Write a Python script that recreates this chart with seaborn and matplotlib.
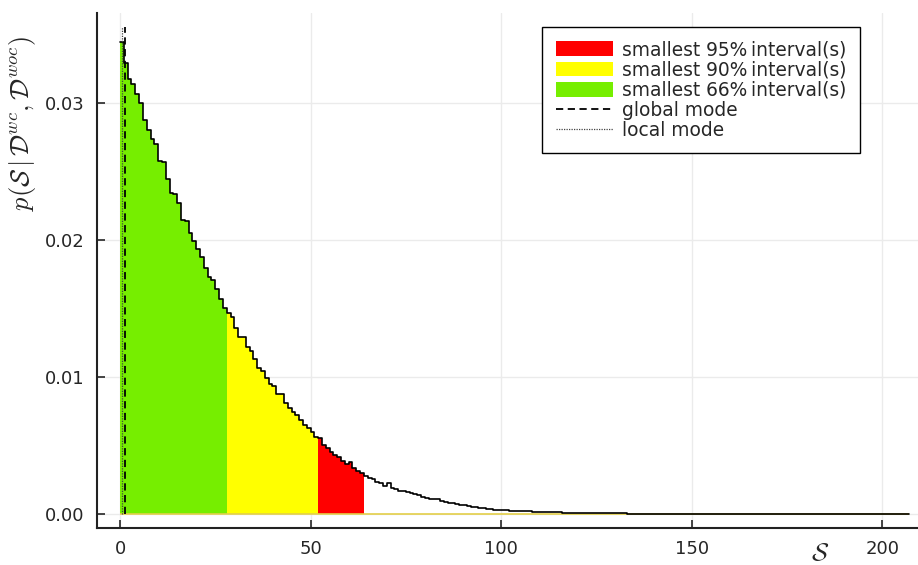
import numpy as np
import pandas as pd
import matplotlib
matplotlib.use("Agg")
import matplotlib.pyplot as plt
import seaborn as sns
from matplotlib.patches import Patch
from matplotlib.lines import Line2D

# Posterior density per unit-width bin, bins start at 0
densidade = [
    0.03445, 0.03287, 0.03171, 0.03134, 0.03063, 0.02995, 0.02874, 0.02801, 0.02733, 0.02697,
    0.02575, 0.02565, 0.02441, 0.02344, 0.02332, 0.02268, 0.02146, 0.02140, 0.02047, 0.01994,
    0.01931, 0.01872, 0.01797, 0.01726, 0.01704, 0.01639, 0.01566, 0.01505, 0.01464, 0.01435,
    0.01359, 0.01293, 0.01290, 0.01220, 0.01191, 0.01128, 0.01067, 0.01043, 0.00994, 0.00946,
    0.00934, 0.00878, 0.00872, 0.00807, 0.00771, 0.00746, 0.00722, 0.00686, 0.00652, 0.00630,
    0.00600, 0.00560, 0.00552, 0.00503, 0.00484, 0.00455, 0.00430, 0.00413, 0.00389, 0.00365,
    0.00382, 0.00333, 0.00316, 0.00297, 0.00277, 0.00260, 0.00253, 0.00236, 0.00224, 0.00204,
    0.00224, 0.00192, 0.00182, 0.00170, 0.00165, 0.00160, 0.00156, 0.00146, 0.00141, 0.00126,
    0.00117, 0.00112, 0.00110, 0.00110, 0.00097, 0.00090, 0.00083, 0.00078, 0.00073, 0.00068,
    0.00066, 0.00058, 0.00053, 0.00049, 0.00046, 0.00041, 0.00036, 0.00034, 0.00032, 0.00030,
    0.00028, 0.00027, 0.00025, 0.00024, 0.00023, 0.00022, 0.00020, 0.00019, 0.00018, 0.00017,
    0.00016, 0.00015, 0.00014, 0.00013, 0.00012, 0.00012, 0.00011, 0.00010, 0.00010, 0.00009,
    0.00009, 0.00008, 0.00008, 0.00007, 0.00007, 0.00006, 0.00006, 0.00005, 0.00005, 0.00005,
    0.00004, 0.00004, 0.00004, 0.00003, 0.00003, 0.00003, 0.00003, 0.00002, 0.00002, 0.00002,
    0.00002, 0.00002, 0.00002, 0.00001, 0.00001, 0.00001, 0.00001, 0.00001, 0.00001, 0.00001,
    0.00001, 0.00001, 0.00001, 0.00001, 0.00001, 0.00001, 0.00001, 0.00001, 0.00001, 0.00001,
    0.00001, 0.00001, 0.00001, 0.00001, 0.00001, 0.00001, 0.000005, 0.000005, 0.000005, 0.000005,
    0.000005, 0.000005, 0.000005, 0.000005, 0.000005, 0.000005, 0.000005, 0.000005, 0.000005, 0.000005,
    0.000005, 0.000005, 0.000005, 0.000005, 0.000005, 0.000005, 0.000005, 0.000005, 0.000005, 0.000005,
    0.000005, 0.0, 0.0, 0.0, 0.0, 0.0, 0.0, 0.0, 0.0, 0.0,
    0.0, 0.0, 0.0, 0.0, 0.0, 0.0, 0.0,
]
largura_bin = 1.0

# Smallest intervals (start, end) and mode positions
intervalo_66 = (0, 28)
intervalo_90 = (28, 52)
intervalo_95 = (52, 64)
moda_global = 1.3
moda_local = 0.45

rotulos_legenda = [
    "smallest 95%\u2009interval(s)",
    "smallest 90%\u2009interval(s)",
    "smallest 66%\u2009interval(s)",
    "global mode",
    "local mode",
]
xticks = [0, 50, 100, 150, 200]
yticks = [0.00, 0.01, 0.02, 0.03]

sns.set_style("ticks")
plt.rcParams["font.family"] = ["DejaVu Sans"]
plt.rcParams["mathtext.fontset"] = "cm"

n = len(densidade)
bordas = np.arange(n + 1) * largura_bin
dados = pd.DataFrame({"S": bordas[:-1] + largura_bin / 2, "p": densidade})

fig = plt.figure(figsize=(9.18, 5.65), dpi=100)
ax = fig.add_axes([97 / 918, 1 - 528 / 565, 1 - 97 / 918, (528 - 13) / 565])

cores = {"95": "#FF0000", "90": "#FFFF00", "66": "#76EE00"}

# intervalos preenchidos
for (ini, fim), cor in [(intervalo_66, cores["66"]), (intervalo_90, cores["90"]), (intervalo_95, cores["95"])]:
    sub = dados[(dados["S"] > ini) & (dados["S"] < fim)]
    sns.histplot(data=sub, x="S", weights="p", binwidth=largura_bin, binrange=(ini, fim),
                 element="step", fill=True, color=cor, alpha=1, linewidth=0, ax=ax, zorder=2)

# linha amarela fina na base
ax.hlines(0, bordas[0], bordas[-1], color="#e3cf4a", lw=1.2, zorder=2.5)

# contorno do histograma inteiro
sns.histplot(data=dados, x="S", weights="p", binwidth=largura_bin, binrange=(bordas[0], bordas[-1]),
             element="step", fill=False, color="black", linewidth=1.2, ax=ax, zorder=3)

# modas
altura_moda = max(densidade) * 1.03
ax.plot([moda_global, moda_global], [0, altura_moda], color="black", lw=1.3,
        linestyle=(0, (4, 2.5)), zorder=4)
ax.plot([moda_local, moda_local], [0, altura_moda], color="#444444", lw=0.9,
        linestyle=(0, (1, 1)), zorder=4)

ax.set_xlim(-6.04, 209.4)
ax.set_ylim(-0.00102, 0.03654)
ax.set_xticks(xticks)
ax.set_xticklabels([str(t) for t in xticks])
ax.set_yticks(yticks)
ax.set_yticklabels([f"{t:.2f}" for t in yticks])
ax.tick_params(direction="in", length=6, width=1.2, labelsize=13, pad=9)
ax.grid(True, color="#ebebeb", lw=1)
ax.set_axisbelow(True)
sns.despine(ax=ax)
for lado in ["left", "bottom"]:
    ax.spines[lado].set_linewidth(1.5)
    ax.spines[lado].set_color("#222222")

ax.set_ylabel(r"$p(\mathcal{S}\,|\,\mathcal{D}^{wc},\mathcal{D}^{woc})$", fontsize=19)
ax.yaxis.set_label_coords(-0.072, 0.786)
ax.set_xlabel(r"$\mathcal{S}$", fontsize=18)
ax.xaxis.set_label_coords(0.8806, -0.026)

handles = [
    Patch(facecolor=cores["95"], edgecolor="none"),
    Patch(facecolor=cores["90"], edgecolor="none"),
    Patch(facecolor=cores["66"], edgecolor="none"),
    Line2D([], [], color="black", lw=1.3, linestyle=(0, (4, 2.5))),
    Line2D([], [], color="#444444", lw=0.9, linestyle=(0, (1, 1))),
]
leg = ax.legend(handles, rotulos_legenda, loc="upper right", bbox_to_anchor=(0.929, 0.973),
                borderaxespad=0, fontsize=13.4, frameon=True, fancybox=False, framealpha=1,
                handlelength=3.1, handleheight=0.85, labelspacing=0.06, handletextpad=0.45,
                borderpad=0.72)
leg.get_frame().set_edgecolor("black")
leg.get_frame().set_linewidth(1.0)

fig.savefig("out.png", dpi=100)
